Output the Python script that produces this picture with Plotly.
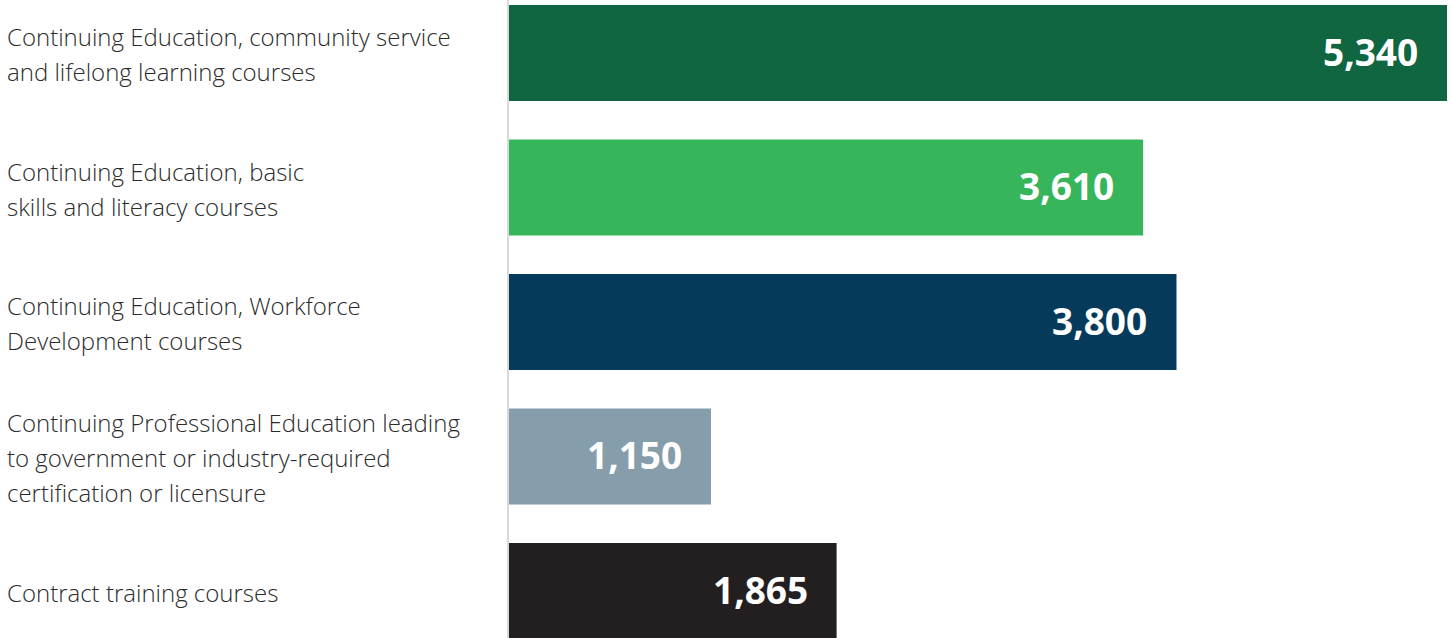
import plotly.graph_objects as go

categories = [
    "Continuing Education, community service<br>and lifelong learning courses",
    "Continuing Education, basic<br>skills and literacy courses",
    "Continuing Education, Workforce<br>Development courses",
    "Continuing Professional Education leading<br>to government or industry-required<br>certification or licensure",
    "Contract training courses",
]
values = [5340, 3610, 3800, 1150, 1865]
value_labels = ["5,340", "3,610", "3,800", "1,150", "1,865"]
colors = ["#106641", "#36b55a", "#053a5b", "#869eab", "#231f20"]

fig = go.Figure(
    go.Bar(
        x=values,
        y=categories,
        orientation="h",
        marker=dict(color=colors, line=dict(width=0)),
        width=0.714,
        hoverinfo="skip",
    )
)

annotations = []
line_gap = 35
for cat, val, lab in zip(categories, values, value_labels):
    annotations.append(dict(
        x=val, y=cat, xref="x", yref="y", text=lab, showarrow=False,
        xanchor="right", yanchor="middle", xshift=-27, yshift=2,
        font=dict(family="Open Sans", size=37, color="white", weight="bold"),
    ))
    lines = cat.split("<br>")
    n = len(lines)
    for i, ln in enumerate(lines):
        off = (i - (n - 1) / 2) * line_gap
        annotations.append(dict(
            x=0, y=cat, xref="x", yref="y", text=ln, showarrow=False,
            xanchor="left", yanchor="middle", xshift=-504, yshift=-off - 1,
            font=dict(family="Open Sans", size=24, color="#2b2b2b", weight=300),
        ))

fig.update_layout(
    width=1453, height=638,
    margin=dict(l=509, r=6, t=0, b=0),
    paper_bgcolor="white", plot_bgcolor="white",
    showlegend=False,
    annotations=annotations,
    xaxis=dict(range=[0, 5340], visible=False, fixedrange=True),
    yaxis=dict(
        type="category", categoryorder="array", categoryarray=categories,
        range=[4.349, -0.394], showticklabels=False, showgrid=False,
        zeroline=False, showline=True, linecolor="#d9d9d9", linewidth=2,
        ticks="", fixedrange=True,
    ),
)

fig.write_html(
    "out.html",
    config={"displayModeBar": False},
    post_script="document.body.style.margin='0';document.body.style.overflow='hidden';",
)
